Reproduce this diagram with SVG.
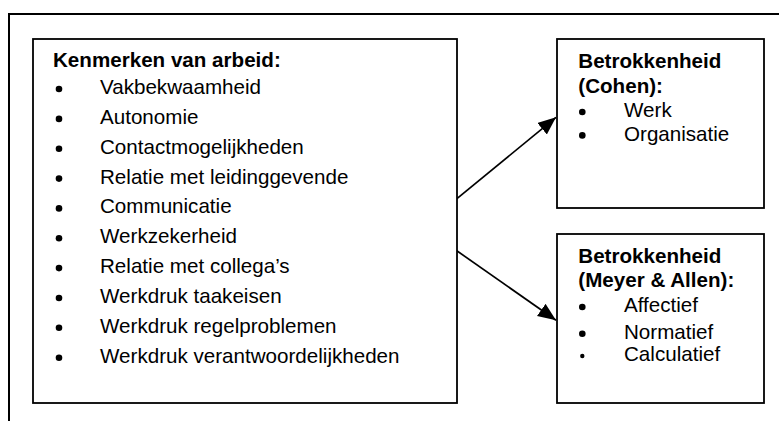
<svg xmlns="http://www.w3.org/2000/svg" width="779" height="421" viewBox="0 0 779 421">
  <style>
    .frame { fill: none; stroke: #000; stroke-width: 2; }
    .box { fill: #fff; stroke: #000; stroke-width: 1.8; }
    .conn { fill: none; stroke: #000; stroke-width: 1.7; }
    text { font-family: "Liberation Sans", Arial, sans-serif; font-size: 20.6px; fill: #000; }
    .title { font-weight: bold; }
    .dot { fill: #000; }
  </style>
  <defs>
    <marker id="arrow" markerUnits="userSpaceOnUse" markerWidth="20" markerHeight="16" refX="18" refY="7.5" orient="auto">
      <path d="M0,0 L18,7.5 L0,15 z" fill="#000"/>
    </marker>
  </defs>

  <rect width="779" height="421" fill="#fff"/>

  <!-- outer frame: top and left edges -->
  <path class="frame" d="M9,421 V14 H779"/>

  <!-- connectors -->
  <g id="connectors">
    <line class="conn" x1="453.3" y1="201.7" x2="556" y2="117.3" marker-end="url(#arrow)"/>
    <line class="conn" x1="453.3" y1="248.3" x2="556" y2="320.3" marker-end="url(#arrow)"/>
  </g>

  <!-- characteristics of work -->
  <g id="kenmerken">
    <rect class="box" x="33" y="39" width="424" height="364"/>
    <text class="title" x="53" y="66.7">Kenmerken van arbeid:</text>
    <g class="dot">
      <circle cx="59" cy="89" r="3.3"/>
      <circle cx="59" cy="118.9" r="3.3"/>
      <circle cx="59" cy="148.7" r="3.3"/>
      <circle cx="59" cy="178.6" r="3.3"/>
      <circle cx="59" cy="208.4" r="3.3"/>
      <circle cx="59" cy="238.3" r="3.3"/>
      <circle cx="59" cy="268.1" r="3.3"/>
      <circle cx="59" cy="298" r="3.3"/>
      <circle cx="59" cy="327.8" r="3.3"/>
      <circle cx="59" cy="357.7" r="3.3"/>
    </g>
    <text x="100" y="94">Vakbekwaamheid</text>
    <text x="100" y="123.9">Autonomie</text>
    <text x="100" y="153.7">Contactmogelijkheden</text>
    <text x="100" y="183.6">Relatie met leidinggevende</text>
    <text x="100" y="213.4">Communicatie</text>
    <text x="100" y="243.3">Werkzekerheid</text>
    <text x="100" y="273.1">Relatie met collega’s</text>
    <text x="100" y="303">Werkdruk taakeisen</text>
    <text x="100" y="332.8">Werkdruk regelproblemen</text>
    <text x="100" y="362.7">Werkdruk verantwoordelijkheden</text>
  </g>

  <!-- commitment (Cohen) -->
  <g id="cohen">
    <rect class="box" x="557" y="39" width="207" height="169"/>
    <text class="title" x="578.3" y="67.7">Betrokkenheid</text>
    <text class="title" x="578.3" y="92.7">(Cohen):</text>
    <circle class="dot" cx="582.3" cy="112" r="3.3"/>
    <circle class="dot" cx="582.3" cy="135.4" r="3.3"/>
    <text x="624" y="117.3">Werk</text>
    <text x="624" y="140.7">Organisatie</text>
  </g>

  <!-- commitment (Meyer & Allen) -->
  <g id="meyer-allen">
    <rect class="box" x="557" y="234" width="207" height="169"/>
    <text class="title" x="578.3" y="263.3">Betrokkenheid</text>
    <text class="title" x="578.3" y="287.3">(Meyer &amp; Allen):</text>
    <circle class="dot" cx="582.3" cy="307" r="3.3"/>
    <circle class="dot" cx="582.3" cy="333.7" r="3.3"/>
    <circle class="dot" cx="582.3" cy="356" r="2.2"/>
    <text x="624" y="312.3">Affectief</text>
    <text x="624" y="339">Normatief</text>
    <text x="624" y="360.7">Calculatief</text>
  </g>
</svg>
